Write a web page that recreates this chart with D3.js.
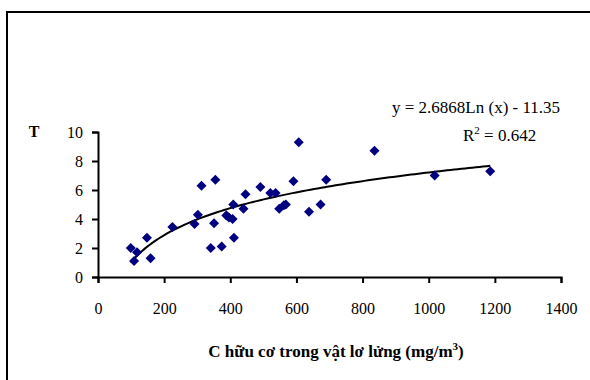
<!DOCTYPE html>
<html>
<head>
<meta charset="utf-8">
<script src="https://cdn.jsdelivr.net/npm/d3@7"></script>
<style>
  body { margin: 0; background: #fff; }
</style>
</head>
<body>
<div id="chart"></div>
<script>
// organic C in suspended matter (mg/m3) vs T
const xValues = [99, 109, 118, 148, 159, 225, 292, 302, 313, 341, 351, 355, 374, 388, 396, 407, 409, 411,
  440, 446, 491, 521, 537, 548, 562, 568, 591, 607, 638, 673, 690, 836, 1018, 1186];
const yValues = [2.0, 1.1, 1.7, 2.7, 1.3, 3.45, 3.65, 4.3, 6.3, 2.0, 3.7, 6.7, 2.1, 4.25, 4.1, 4.0, 5.0, 2.7,
  4.7, 5.7, 6.2, 5.8, 5.8, 4.7, 4.95, 5.0, 6.6, 9.3, 4.5, 5.0, 6.7, 8.7, 7.0, 7.3];
const xTicks = [0, 200, 400, 600, 800, 1000, 1200, 1400];
const yTicks = [0, 2, 4, 6, 8, 10];
const trendA = 2.6868, trendB = -11.35, rSquared = 0.642;

const width = 590, height = 380;
const margin = { top: 132, right: 29, bottom: 103, left: 98 };
const font = '"Liberation Serif", "Times New Roman", serif';

const svg = d3.select('#chart').append('svg')
  .attr('width', width)
  .attr('height', height)
  .style('font-family', font);

svg.append('rect')
  .attr('x', 7).attr('y', 12)
  .attr('width', 600).attr('height', 400)
  .attr('fill', '#fff')
  .attr('stroke', '#000')
  .attr('stroke-width', 2);

const x = d3.scaleLinear().domain([0, 1400]).range([margin.left, width - margin.right]);
const y = d3.scaleLinear().domain([0, 10]).range([height - margin.bottom, margin.top]);

// axes
svg.append('g')
  .attr('transform', `translate(0,${y(0)})`)
  .call(d3.axisBottom(x).tickValues(xTicks).tickFormat(d3.format('d')).tickSize(6).tickPadding(20))
  .attr('font-family', font)
  .call(g => g.select('.domain').attr('stroke-width', 2))
  .call(g => g.selectAll('.tick line').attr('stroke-width', 2))
  .call(g => g.selectAll('.tick text').attr('font-size', 16).attr('fill', '#000'));

svg.append('g')
  .attr('transform', `translate(${x(0)},0)`)
  .call(d3.axisLeft(y).tickValues(yTicks).tickSize(6).tickPadding(9))
  .attr('font-family', font)
  .call(g => g.select('.domain').attr('stroke-width', 2))
  .call(g => g.selectAll('.tick line').attr('stroke-width', 2))
  .call(g => g.selectAll('.tick text').attr('font-size', 16).attr('fill', '#000'));

// logarithmic trendline over the data range
const xMin = d3.min(xValues), xMax = d3.max(xValues);
const trend = d3.range(0, 101).map(i => {
  const xv = xMin + (xMax - xMin) * i / 100;
  return [xv, trendA * Math.log(xv) + trendB];
});
svg.append('path')
  .datum(trend)
  .attr('fill', 'none')
  .attr('stroke', '#000')
  .attr('stroke-width', 2)
  .attr('d', d3.line().x(d => x(d[0])).y(d => y(d[1])));

// points
svg.append('g')
  .selectAll('path')
  .data(xValues.map((v, i) => [v, yValues[i]]))
  .join('path')
  .attr('transform', d => `translate(${x(d[0])},${y(d[1])})`)
  .attr('d', d3.symbol().type(d3.symbolDiamond2).size(64))
  .attr('fill', '#000080');

// trendline labels
svg.append('text')
  .attr('x', 392).attr('y', 113)
  .attr('font-size', 17)
  .text(`y = ${trendA}Ln (x) - ${Math.abs(trendB)}`);

const r2 = svg.append('text')
  .attr('x', 463).attr('y', 141)
  .attr('font-size', 17);
r2.append('tspan').text('R');
r2.append('tspan').attr('dy', -7).attr('font-size', 11).text('2');
r2.append('tspan').attr('dy', 7).text(` = ${rSquared}`);

// axis titles
svg.append('text')
  .attr('x', 34).attr('y', 137)
  .attr('text-anchor', 'middle')
  .attr('font-size', 16)
  .attr('font-weight', 'bold')
  .text('T');

const xt = svg.append('text')
  .attr('x', 336).attr('y', 357)
  .attr('text-anchor', 'middle')
  .attr('font-size', 17)
  .attr('font-weight', 'bold');
xt.append('tspan').text('C hữu cơ trong vật lơ lửng (mg/m');
xt.append('tspan').attr('dy', -7).attr('font-size', 11).text('3');
xt.append('tspan').attr('dy', 7).text(')');
</script>
</body>
</html>
